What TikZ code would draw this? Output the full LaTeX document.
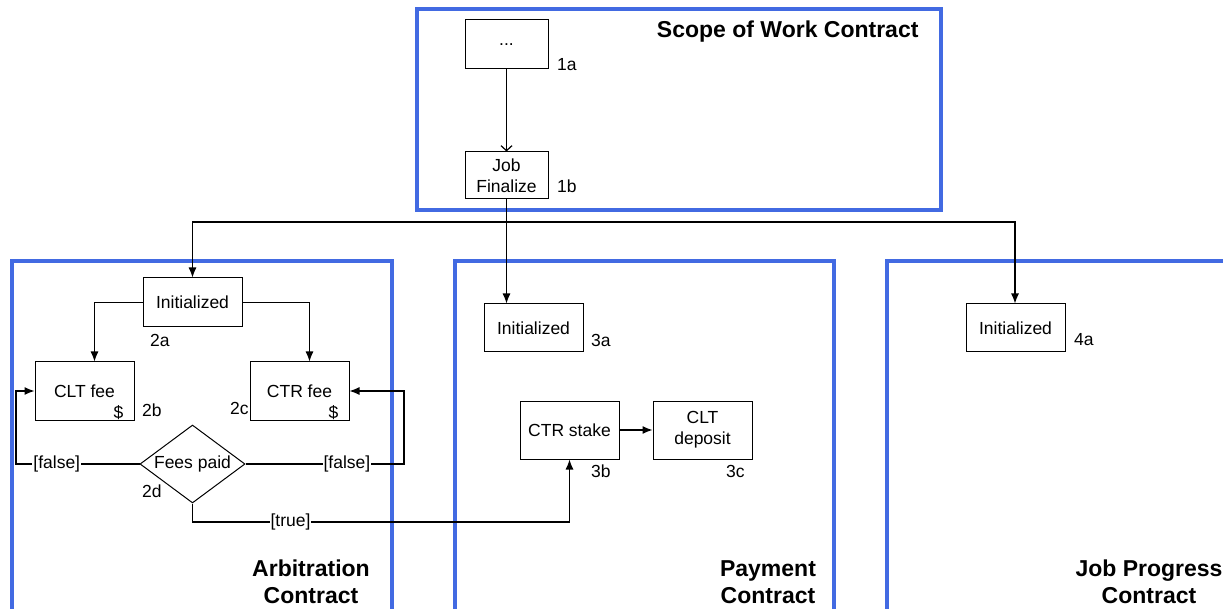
\documentclass[tikz,border=0pt]{standalone}
\usepackage{fontspec}
\setmainfont{Liberation Sans}
\usetikzlibrary{positioning,shapes.geometric,arrows.meta}
\definecolor{contractblue}{RGB}{66,106,226}

\tikzset{
  stbox/.style={draw, line width=1pt, minimum width=99pt, minimum height=49pt,
    inner sep=2pt, align=center, font=\fontsize{17.5}{21}\selectfont},
  feebox/.style={stbox, minimum height=58pt,
    label={[anchor=south east, inner xsep=11pt, inner ysep=1pt, font=\fontsize{17.5}{21}\selectfont]south east:\$}},
  decision/.style={draw, diamond, line width=1pt, minimum width=105pt, minimum height=78pt,
    inner sep=0pt},
  tag/.style={anchor=west, inner sep=0pt, font=\fontsize{17.5}{21}\selectfont},
  guard/.style={fill=white, inner sep=1pt, font=\fontsize{17.5}{21}\selectfont},
  contract/.style={draw=contractblue, line width=4pt},
  ctitle/.style={align=center, font=\fontsize{23}{27}\selectfont\bfseries},
  flow/.style={line width=1.2pt, -{Latex[length=10pt,width=8pt]}},
}

\begin{document}
\begin{tikzpicture}[x=1pt, y=-1pt]
    \useasboundingbox (0,0) rectangle (1223,609);
    \clip (0,0) rectangle (1223,609);

    % contract frames
    \draw[contract] (417,9) rectangle (941,210);
    \draw[contract] (12,261) rectangle (392,640);
    \draw[contract] (455,261) rectangle (834,640);
    \draw[contract] (887,261) rectangle (1260,640);

    \node[ctitle, anchor=east] (tscope) at (922,32) {Scope of Work Contract};
    \node[ctitle] (tarb) at (311,582) {Arbitration\\Contract};
    \node[ctitle] (tpay) at (768,582) {Payment\\Contract};
    \node[ctitle] (tjob) at (1149,582) {Job Progress\\Contract};

    % scope of work
    \node[stbox, minimum width=83pt] (sw1) at (506.5,44.5) {...};
    \node[stbox, minimum width=83pt, minimum height=47pt] (sw2) at (506.5,175.5) {Job\\Finalize};
    \node[tag] (l1a) at (557,65) {1a};
    \node[tag] (l1b) at (557,186) {1b};

    % arbitration
    \node[stbox] (arb1) at (192.5,302.5) {Initialized};
    \node[feebox] (arb2) at (84.5,391) {CLT fee};
    \node[feebox] (arb3) at (299.5,391) {CTR fee};
    \node[decision, label={[font=\fontsize{17.5}{21}\selectfont]center:Fees paid}] (arb4) at (192.5,464) {};
    \node[tag] (l2a) at (150,340) {2a};
    \node[tag] (l2b) at (142,410) {2b};
    \node[tag] (l2c) at (230,408) {2c};
    \node[tag] (l2d) at (142,491) {2d};

    % payment
    \node[stbox, minimum height=48pt] (pay1) at (533.5,328) {Initialized};
    \node[stbox, minimum height=58pt] (pay2) at (569.5,430) {CTR stake};
    \node[stbox, minimum height=58pt] (pay3) at (702.5,430) {CLT\\deposit};
    \node[tag] (l3a) at (591,340) {3a};
    \node[tag] (l3b) at (591,471) {3b};
    \node[tag] (l3c) at (726,471) {3c};

    % job progress
    \node[stbox, minimum height=48pt] (job1) at (1015.5,328) {Initialized};
    \node[tag] (l4a) at (1074,340) {4a};

    \coordinate (split) at (508,222);
    \coordinate (fleft) at (16,464);
    \coordinate (fright) at (404,464);
    \coordinate (tbend) at (192.5,522);

    \draw[line width=1.2pt, -{Straight Barb[length=5pt,width=11pt]}] (sw1) -- (sw2);
    \draw[flow] (sw2.south) -- (sw2.south |- pay1.north);
    \draw[flow] (split) -| (arb1.north);
    \draw[flow] (split) -| ([xshift=-0.5pt]job1.north);
    \draw[flow] (arb1.west) -| ([xshift=10pt]arb2.north);
    \draw[flow] (arb1.east) -| ([xshift=10pt]arb3.north);
    \draw[flow] (arb4.west) -- node[guard, pos=0.67] {[false]} (fleft) |- (arb2.west);
    \draw[flow] (arb4.east) -- node[guard, pos=0.64] {[false]} (fright) |- (arb3.east);
    \draw[flow] (arb4.south) -- (tbend) -| node[guard, pos=0.13] {[true]} (pay2.south);
    \draw[flow] (pay2) -- (pay3);
\end{tikzpicture}
\end{document}
